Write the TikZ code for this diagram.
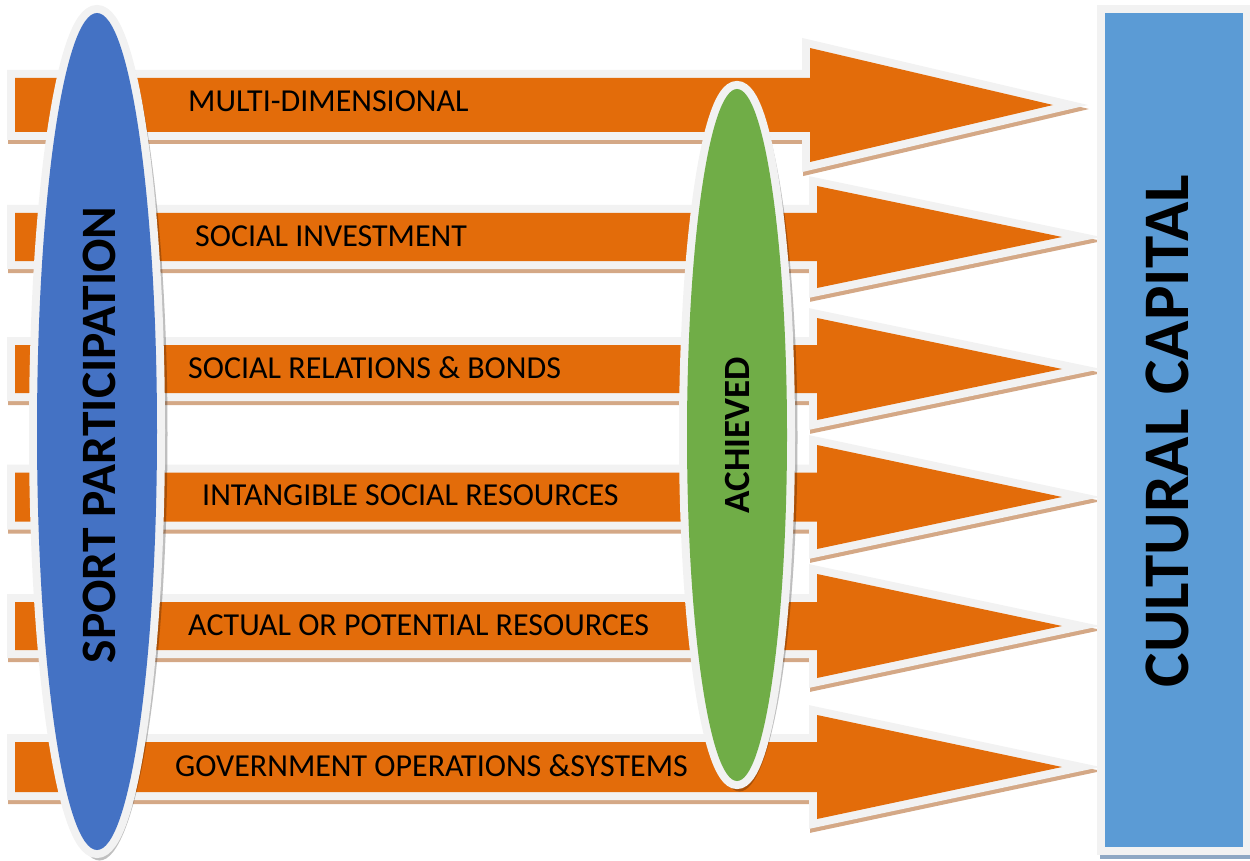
\documentclass[tikz,border=0pt]{standalone}
\usepackage{fontspec}
\setmainfont{Carlito}
\usetikzlibrary{shapes.geometric}
\definecolor{orangeA}{HTML}{E36C0A}
\definecolor{borderG}{HTML}{F2F2F2}
\definecolor{shadowB}{HTML}{D4A886}
\definecolor{blueE}{HTML}{4472C4}
\definecolor{greenE}{HTML}{70AD47}
\definecolor{blueR}{HTML}{5B9BD5}
\definecolor{shadowR}{HTML}{8FA8C4}
\newcommand\arrowpath[6]{(#6,#1-#2) -- (#4,#1-#2) -- (#4,#1-#3) -- (#5,#1) -- (#4,#1+#3) -- (#4,#1+#2) -- (#6,#1+#2) -- cycle}
\tikzset{
  arrshadow/.style={draw=shadowB, fill=shadowB, line width=16pt, line join=miter},
  arrborder/.style={draw=borderG, line width=16pt, line join=miter},
  arrfill/.style={fill=orangeA},
  lbl/.style={anchor=west, inner sep=0pt, font=\fontsize{32}{32}\selectfont, text=black},
  biglbl/.style={rotate=90, inner sep=0pt, font=\bfseries, text=black},
  ellshadow/.style={fill=black, opacity=0.25},
}
\begin{document}
\begin{tikzpicture}[x=1pt, y=-1pt]
\useasboundingbox (0,0) rectangle (1250,861);
% arrows
\foreach \yc/\sh/\hh/\hx/\tp in {105/27/57/810/1053, 237/24/51/817/1062, 369/24/51/817/1062, 497/24.5/52/817/1062, 626/24/52/817/1062, 767/25/52/817/1062}{
  \path[arrshadow, shift={(1,4)}] \arrowpath{\yc}{\sh}{\hh}{\hx}{\tp}{15};
  \path[arrborder] \arrowpath{\yc}{\sh}{\hh}{\hx}{\tp}{15};
  \path[arrfill] \arrowpath{\yc}{\sh}{\hh}{\hx}{\tp}{15};
}
% arrow labels
\node[lbl] (l1) at (188,101.5) {MULTI-DIMENSIONAL};
\node[lbl] (l2) at (195,236) {SOCIAL INVESTMENT};
\node[lbl] (l3) at (188,368) {SOCIAL RELATIONS \& BONDS};
\node[lbl] (l4) at (202,495) {INTANGIBLE SOCIAL RESOURCES};
\node[lbl] (l5) at (188,625) {ACTUAL OR POTENTIAL RESOURCES};
\node[lbl] (l6) at (175,766) {GOVERNMENT OPERATIONS \&SYSTEMS};
% blue ellipse
\fill[ellshadow] (99.5,434) ellipse [x radius=68, y radius=426.5];
\node (sp) [ellipse, inner sep=0pt, minimum width=120pt, minimum height=837pt, fill=blueE, preaction={draw=borderG, line width=16pt}] at (97,431.5) {};
\node[biglbl, font=\bfseries\fontsize{49.5}{49.5}\selectfont] (spt) at (99,435) {SPORT PARTICIPATION};
% green ellipse
\fill[ellshadow] (739.5,437.5) ellipse [x radius=58, y radius=354];
\node (ach) [ellipse, inner sep=0pt, minimum width=100pt, minimum height=692pt, fill=greenE, preaction={draw=borderG, line width=16pt}] at (737,435) {};
\node[biglbl, font=\bfseries\fontsize{37}{37}\selectfont] (acht) at (737,435) {ACHIEVED};
% rectangle
\fill[shadowR] (1100,850) rectangle (1252,859);
\node (cc) [rectangle, inner sep=0pt, minimum width=138pt, minimum height=834pt, fill=blueR, preaction={draw=borderG, line width=16pt}] at (1174,430) {};
\node[biglbl, font=\bfseries\fontsize{65}{65}\selectfont] (cct) at (1167,431) {CULTURAL CAPITAL};
\end{tikzpicture}
\end{document}
